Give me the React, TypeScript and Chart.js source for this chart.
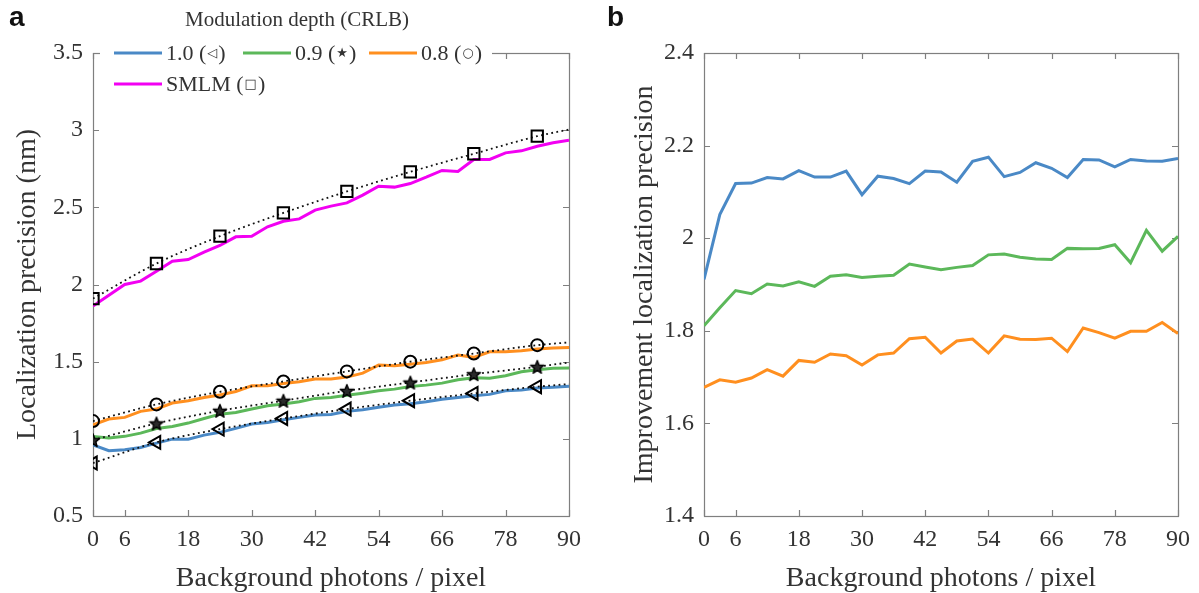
import React, { useEffect, useRef } from 'react';
import { Chart, registerables } from 'chart.js';

Chart.register(...registerables);

const SERIF = '"Liberation Serif", "Times New Roman", serif';
const SYMBOL_FONT = '"DejaVu Sans", sans-serif';
const TEXT = '#333333';
const AXIS = '#7f7f7f';

// Background photons / pixel (x categories)
const xValues = [0, 3, 6, 9, 12, 15, 18, 21, 24, 27, 30, 33, 36, 39, 42, 45, 48, 51, 54, 57, 60, 63, 66, 69, 72, 75, 78, 81, 84, 87, 90];
const crlbX = [0, 12, 24, 36, 48, 60, 72, 84, 90];

// Panel a: measured localization precision (nm)
const meas10 = [0.960, 0.923, 0.929, 0.944, 0.972, 0.998, 0.998, 1.024, 1.042, 1.068, 1.096, 1.106, 1.124, 1.139, 1.154, 1.158, 1.178, 1.189, 1.204, 1.219, 1.227, 1.240, 1.257, 1.268, 1.279, 1.288, 1.311, 1.316, 1.329, 1.335, 1.340];
const meas09 = [1.015, 1.005, 1.016, 1.037, 1.067, 1.080, 1.102, 1.132, 1.160, 1.171, 1.193, 1.214, 1.225, 1.240, 1.262, 1.268, 1.283, 1.296, 1.311, 1.322, 1.339, 1.348, 1.361, 1.383, 1.396, 1.392, 1.409, 1.435, 1.448, 1.457, 1.459];
const meas08 = [1.091, 1.128, 1.139, 1.178, 1.193, 1.232, 1.247, 1.268, 1.284, 1.307, 1.344, 1.344, 1.359, 1.370, 1.387, 1.387, 1.400, 1.426, 1.478, 1.474, 1.484, 1.495, 1.512, 1.543, 1.528, 1.564, 1.564, 1.571, 1.582, 1.588, 1.592];
const measSMLM = [1.860, 1.931, 2.000, 2.022, 2.086, 2.151, 2.162, 2.210, 2.253, 2.309, 2.313, 2.374, 2.410, 2.425, 2.482, 2.508, 2.529, 2.579, 2.637, 2.631, 2.654, 2.695, 2.739, 2.732, 2.810, 2.810, 2.853, 2.866, 2.896, 2.918, 2.935];

// Panel a: CRLB (dotted, with markers)
const crlb10 = [0.843, 0.977, 1.063, 1.132, 1.193, 1.247, 1.294, 1.338, 1.355];
const crlb09 = [0.992, 1.100, 1.182, 1.247, 1.311, 1.365, 1.419, 1.467, 1.495];
const crlb08 = [1.115, 1.223, 1.305, 1.372, 1.437, 1.500, 1.553, 1.607, 1.625];
const crlbSMLM = [1.909, 2.136, 2.313, 2.464, 2.603, 2.730, 2.847, 2.961, 3.004];

// Panel b: improvement localization precision
const impr10 = [1.911, 2.051, 2.118, 2.119, 2.131, 2.128, 2.146, 2.132, 2.132, 2.145, 2.094, 2.134, 2.129, 2.118, 2.145, 2.143, 2.121, 2.166, 2.175, 2.133, 2.142, 2.163, 2.151, 2.131, 2.170, 2.169, 2.154, 2.170, 2.167, 2.166, 2.172];
const impr09 = [1.811, 1.850, 1.887, 1.880, 1.901, 1.897, 1.906, 1.896, 1.918, 1.921, 1.915, 1.918, 1.920, 1.944, 1.938, 1.932, 1.937, 1.941, 1.964, 1.966, 1.959, 1.955, 1.954, 1.978, 1.977, 1.978, 1.986, 1.947, 2.017, 1.972, 2.004];
const impr08 = [1.678, 1.694, 1.689, 1.698, 1.716, 1.702, 1.736, 1.732, 1.750, 1.746, 1.726, 1.748, 1.752, 1.783, 1.786, 1.752, 1.778, 1.782, 1.752, 1.789, 1.782, 1.781, 1.784, 1.755, 1.806, 1.796, 1.784, 1.799, 1.799, 1.818, 1.794];

// Ticks
const xTicks = [0, 6, 18, 30, 42, 54, 66, 78, 90];
const yTicksA = [0.5, 1, 1.5, 2, 2.5, 3, 3.5];
const yTicksB = [1.4, 1.6, 1.8, 2, 2.2, 2.4];

// Legend
const legendTitle = 'Modulation depth (CRLB)';
const legendLabels = ['1.0', '0.9', '0.8', 'SMLM'];
const legendSymbols = ['◁', '★', '○', '□'];

const C10 = '#4a89c6';
const C09 = '#5cb85a';
const C08 = '#ff8f1f';
const CSM = '#f200f2';
const legendColors = [C10, C09, C08, CSM];

const pts = (xs: number[], ys: number[]) => xs.map((x, i) => ({ x, y: ys[i] }));

function makeStar(): HTMLCanvasElement {
  const c = document.createElement('canvas');
  c.width = 16;
  c.height = 16;
  const g = c.getContext('2d')!;
  g.beginPath();
  for (let k = 0; k < 10; k++) {
    const r = k % 2 === 0 ? 7 : 3;
    const a = -Math.PI / 2 + (k * Math.PI) / 5;
    g.lineTo(8 + r * Math.cos(a), 8.7 + r * Math.sin(a));
  }
  g.closePath();
  g.fillStyle = '#2a2a2a';
  g.fill();
  g.lineWidth = 1.4;
  g.lineJoin = 'round';
  g.strokeStyle = '#000';
  g.stroke();
  return c;
}

const framePlugin = {
  id: 'frame',
  beforeDatasetsDraw(chart: any) {
    const { ctx, chartArea, scales } = chart;
    const { left, right, top, bottom } = chartArea;
    ctx.save();
    ctx.strokeStyle = AXIS;
    ctx.lineWidth = 1.2;
    ctx.strokeRect(Math.round(left) + 0.5, Math.round(top) + 0.5, Math.round(right - left), Math.round(bottom - top));
    const tl = 6;
    ctx.beginPath();
    scales.x.ticks.forEach((t: any) => {
      const px = Math.round(scales.x.getPixelForValue(t.value)) + 0.5;
      ctx.moveTo(px, bottom);
      ctx.lineTo(px, bottom - tl);
      ctx.moveTo(px, top);
      ctx.lineTo(px, top + tl);
    });
    scales.y.ticks.forEach((t: any) => {
      const py = Math.round(scales.y.getPixelForValue(t.value)) + 0.5;
      ctx.moveTo(left, py);
      ctx.lineTo(left + tl, py);
      ctx.moveTo(right, py);
      ctx.lineTo(right - tl, py);
    });
    ctx.stroke();
    ctx.restore();
  },
};

const legendPlugin = {
  id: 'mdLegend',
  afterDraw(chart: any) {
    const { ctx, chartArea } = chart;
    const L = chartArea.left;
    const T = chartArea.top;
    ctx.save();
    ctx.fillStyle = '#ffffff';
    ctx.fillRect(L + 7, T - 14, 392, 62);
    ctx.fillStyle = TEXT;
    ctx.textBaseline = 'middle';
    ctx.textAlign = 'center';
    ctx.font = `21px ${SERIF}`;
    ctx.fillText(legendTitle, L + 204, T - 33);
    ctx.textAlign = 'left';
    const pos = [
      [L + 21, T],
      [L + 150, T],
      [L + 276, T],
      [L + 21, T + 31],
    ];
    legendLabels.forEach((lab, i) => {
      const [x, y] = pos[i];
      ctx.strokeStyle = legendColors[i];
      ctx.lineWidth = 3;
      ctx.beginPath();
      ctx.moveTo(x, y);
      ctx.lineTo(x + 48, y);
      ctx.stroke();
      let tx = x + 52;
      ctx.fillStyle = TEXT;
      ctx.font = `22px ${SERIF}`;
      const pre = `${lab} (`;
      ctx.fillText(pre, tx, y + 1);
      tx += ctx.measureText(pre).width + 1;
      ctx.font = `bold 13px ${SYMBOL_FONT}`;
      ctx.fillText(legendSymbols[i], tx, y + 1);
      tx += ctx.measureText(legendSymbols[i]).width + 1;
      ctx.font = `22px ${SERIF}`;
      ctx.fillText(')', tx, y + 1);
    });
    ctx.restore();
  },
};

function makeOptions(opts: {
  yMin: number;
  yMax: number;
  yTicks: number[];
  yTitle: string;
  yWidth: number;
  yTitlePad: number;
  padRight: number;
}) {
  return {
    responsive: false,
    maintainAspectRatio: false,
    animation: false as const,
    layout: { padding: { left: 0, right: opts.padRight, top: 53, bottom: 0 } },
    plugins: { legend: { display: false }, tooltip: { enabled: false } },
    scales: {
      x: {
        type: 'linear' as const,
        min: 0,
        max: 90,
        grid: { display: false, drawTicks: false },
        border: { display: false },
        afterBuildTicks: (s: any) => {
          s.ticks = xTicks.map((v) => ({ value: v }));
        },
        afterFit: (s: any) => {
          s.height = 77;
        },
        ticks: {
          autoSkip: false,
          maxRotation: 0,
          padding: 9,
          color: TEXT,
          font: { family: SERIF, size: 24 },
          callback: (v: any) => `${Number(v)}`,
        },
        title: {
          display: true,
          text: 'Background photons / pixel',
          color: TEXT,
          font: { family: SERIF, size: 28 },
          padding: { top: 0, bottom: -2 },
        },
      },
      y: {
        type: 'linear' as const,
        min: opts.yMin,
        max: opts.yMax,
        grid: { display: false, drawTicks: false },
        border: { display: false },
        afterBuildTicks: (s: any) => {
          s.ticks = opts.yTicks.map((v) => ({ value: v }));
        },
        afterFit: (s: any) => {
          s.width = opts.yWidth;
        },
        ticks: {
          autoSkip: false,
          padding: 10,
          color: TEXT,
          font: { family: SERIF, size: 24 },
          callback: (v: any) => `${Number(v)}`,
        },
        title: {
          display: true,
          text: opts.yTitle,
          color: TEXT,
          font: { family: SERIF, size: 28 },
          padding: { top: opts.yTitlePad, bottom: 0 },
        },
      },
    },
  };
}

const measLine = (data: number[], color: string) => ({
  data: pts(xValues, data),
  borderColor: color,
  borderWidth: 3,
  pointRadius: 0,
  tension: 0,
  order: 2,
});

const crlbLine = (data: number[], style: any, radius: number, rotation = 0) => ({
  data: pts(crlbX, data),
  borderColor: '#111111',
  borderWidth: 1.8,
  borderDash: [1.8, 3.4],
  cubicInterpolationMode: 'monotone' as const,
  pointStyle: style,
  pointRotation: rotation,
  pointRadius: (c: any) => (c.dataIndex === crlbX.length - 1 ? 0 : radius),
  pointBorderColor: '#000000',
  pointBackgroundColor: 'rgba(255,255,255,0)',
  pointBorderWidth: 2,
  order: 1,
});

export default function App() {
  const refA = useRef<HTMLCanvasElement>(null);
  const refB = useRef<HTMLCanvasElement>(null);

  useEffect(() => {
    const star = makeStar();
    const chartA = new Chart(refA.current!, {
      type: 'line',
      data: {
        datasets: [
          crlbLine(crlbSMLM, 'rect', 8),
          crlbLine(crlb08, 'circle', 6),
          crlbLine(crlb09, star, 7),
          crlbLine(crlb10, 'triangle', 7.5, -90),
          measLine(measSMLM, CSM),
          measLine(meas08, C08),
          measLine(meas09, C09),
          measLine(meas10, C10),
        ] as any,
      },
      options: makeOptions({
        yMin: 0.5,
        yMax: 3.5,
        yTicks: yTicksA,
        yTitle: 'Localization precision (nm)',
        yWidth: 93,
        yTitlePad: 11,
        padRight: 31,
      }) as any,
      plugins: [framePlugin, legendPlugin],
    });
    const chartB = new Chart(refB.current!, {
      type: 'line',
      data: {
        datasets: [measLine(impr10, C10), measLine(impr09, C09), measLine(impr08, C08)] as any,
      },
      options: makeOptions({
        yMin: 1.4,
        yMax: 2.4,
        yTicks: yTicksB,
        yTitle: 'Improvement localization precision',
        yWidth: 104,
        yTitlePad: 28,
        padRight: 19,
      }) as any,
      plugins: [framePlugin],
    });
    return () => {
      chartA.destroy();
      chartB.destroy();
    };
  }, []);

  const letter: React.CSSProperties = {
    position: 'absolute',
    top: 3,
    fontFamily: '"Liberation Sans", Arial, sans-serif',
    fontWeight: 'bold',
    fontSize: 28,
    lineHeight: 1,
    color: '#111',
  };

  return (
    <div style={{ position: 'fixed', left: 0, top: 0, width: 1199, height: 593, background: '#fff', overflow: 'hidden' }}>
      <canvas ref={refA} width={600} height={593} style={{ position: 'absolute', left: 0, top: 0, width: 600, height: 593 }} />
      <canvas ref={refB} width={599} height={593} style={{ position: 'absolute', left: 600, top: 0, width: 599, height: 593 }} />
      <div style={{ ...letter, left: 9 }}>a</div>
      <div style={{ ...letter, left: 607 }}>b</div>
    </div>
  );
}
